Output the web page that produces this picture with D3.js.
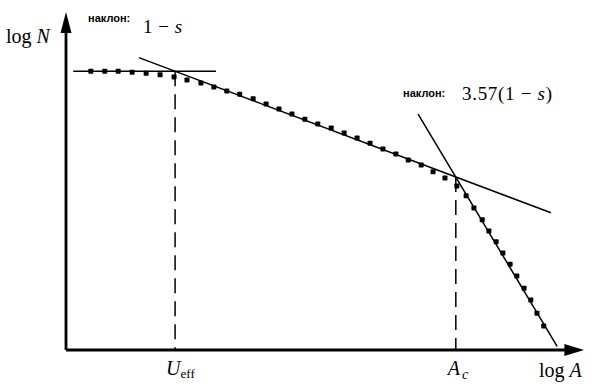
<!DOCTYPE html>
<html>
<head>
<meta charset="utf-8">
<script src="https://cdn.jsdelivr.net/npm/d3@7"></script>
<style>
  body { margin: 0; background: #fff; }
</style>
</head>
<body>
<div id="canvas"></div>
<script>
"use strict"

// dotted curve: log A (x) and log N (y)
let curveX = [0.48, 0.75, 1.01, 1.28, 1.55, 1.82, 2.09, 2.34, 2.61, 2.86, 3.11, 3.36, 3.62, 3.87,
    4.12, 4.37, 4.62, 4.87, 5.13, 5.38, 5.63, 5.88, 6.13, 6.38, 6.62, 6.87, 7.10, 7.33, 7.56,
    7.74, 7.89, 8.05, 8.18, 8.32, 8.45, 8.59, 8.72, 8.86, 8.99, 9.11, 9.24]
let curveY = [8.25, 8.25, 8.25, 8.22, 8.19, 8.14, 8.08, 7.99, 7.90, 7.78, 7.66, 7.57, 7.43, 7.28,
    7.13, 6.98, 6.83, 6.69, 6.57, 6.42, 6.27, 6.12, 5.95, 5.80, 5.62, 5.47, 5.27, 5.09, 4.85,
    4.56, 4.20, 3.85, 3.52, 3.20, 2.87, 2.54, 2.19, 1.83, 1.48, 1.09, 0.71]

// the three straight asymptote lines (start / end)
let flatLine = [[0.14, 8.25], [2.90, 8.25]]
let midLine = [[1.41, 8.65], [9.38, 4.06]]
let steepLine = [[6.81, 6.98], [9.50, 0.11]]

// marked points on the x axis
let markNames = ["U", "A"]
let markX = [2.11, 7.54]
let markY = [8.25, 5.12]

let drawing = d3.select("#canvas")
    .append("svg")
    .attr("width", 608)
    .attr("height", 390)

let x = d3.scaleLinear().domain([0, 10]).range([66, 583])
let y = d3.scaleLinear().domain([0, 10]).range([350, 12])

let serif = "'Liberation Serif', 'DejaVu Serif', serif"
let sans = "'Liberation Sans', Arial, sans-serif"

// axes
drawing.append("line") // y axis
    .attr("x1", x(0)).attr("y1", y(0))
    .attr("x2", x(0)).attr("y2", y(9.4))
    .attr("stroke", "black")
    .attr("stroke-width", 2.8)

drawing.append("line") // x axis
    .attr("x1", x(0)).attr("y1", y(0))
    .attr("x2", x(9.65)).attr("y2", y(0))
    .attr("stroke", "black")
    .attr("stroke-width", 2.8)

drawing.append("polygon") // arrow up
    .attr("points", [[x(0), y(10)], [x(0) - 5.5, y(9.38)], [x(0) + 5.5, y(9.38)]].join(" "))
    .attr("fill", "black")

drawing.append("polygon") // arrow right
    .attr("points", [[x(10.02), y(0)], [x(9.64), y(0) - 6], [x(9.64), y(0) + 6]].join(" "))
    .attr("fill", "black")

// dashed droplines
drawing.selectAll(".drop")
    .data(markX)
    .enter().append("line")
    .attr("x1", d => x(d)).attr("x2", d => x(d))
    .attr("y1", (d, i) => y(markY[i]))
    .attr("y2", y(0))
    .attr("stroke", "black")
    .attr("stroke-width", 1.5)
    .attr("stroke-dasharray", "15,8")

// asymptotes
let lineGen = d3.line().x(d => x(d[0])).y(d => y(d[1]))
drawing.selectAll(".asym")
    .data([flatLine, midLine, steepLine])
    .enter().append("path")
    .attr("d", lineGen)
    .attr("fill", "none")
    .attr("stroke", "black")
    .attr("stroke-width", 1.5)

// dots
drawing.selectAll(".dot")
    .data(curveX)
    .enter().append("rect")
    .attr("x", d => x(d) - 2.5)
    .attr("y", (d, i) => y(curveY[i]) - 2.5)
    .attr("width", 5)
    .attr("height", 5)
    .attr("rx", 0.8)
    .attr("fill", "black")

// axis labels
let logN = drawing.append("text")
    .attr("x", 6).attr("y", 43)
    .attr("font-family", serif).attr("font-size", 20)
logN.append("tspan").text("log ")
logN.append("tspan").attr("font-style", "italic").text("N")

let logA = drawing.append("text")
    .attr("x", 539).attr("y", 377)
    .attr("font-family", serif).attr("font-size", 20)
logA.append("tspan").text("log ")
logA.append("tspan").attr("font-style", "italic").text("A")

let uLab = drawing.append("text")
    .attr("x", x(markX[0]) - 9).attr("y", 375)
    .attr("font-family", serif).attr("font-size", 20)
uLab.append("tspan").attr("font-style", "italic").text(markNames[0])
uLab.append("tspan").attr("font-size", 13).attr("dy", 3).text("eff")

let aLab = drawing.append("text")
    .attr("x", x(markX[1]) - 8).attr("y", 375)
    .attr("font-family", serif).attr("font-size", 20)
aLab.append("tspan").attr("font-style", "italic").text(markNames[1])
aLab.append("tspan").attr("font-size", 14).attr("font-style", "italic").attr("dx", 2).attr("dy", 4).text("c")

// slope notes
drawing.append("text")
    .attr("x", 88).attr("y", 22)
    .attr("font-family", sans).attr("font-size", 11).attr("font-weight", "bold")
    .text("наклон:")

let s1 = drawing.append("text")
    .attr("x", 143).attr("y", 33)
    .attr("font-family", serif).attr("font-size", 19)
    .attr("letter-spacing", 0.5)
s1.append("tspan").text("1 \u2212 ")
s1.append("tspan").attr("font-style", "italic").text("s")

drawing.append("text")
    .attr("x", 403).attr("y", 97)
    .attr("font-family", sans).attr("font-size", 11).attr("font-weight", "bold")
    .text("наклон:")

let s2 = drawing.append("text")
    .attr("x", 462).attr("y", 100)
    .attr("font-family", serif).attr("font-size", 19)
    .attr("letter-spacing", 0.7)
s2.append("tspan").text("3.57(1 \u2212 ")
s2.append("tspan").attr("font-style", "italic").text("s")
s2.append("tspan").text(")")
</script>
</body>
</html>
